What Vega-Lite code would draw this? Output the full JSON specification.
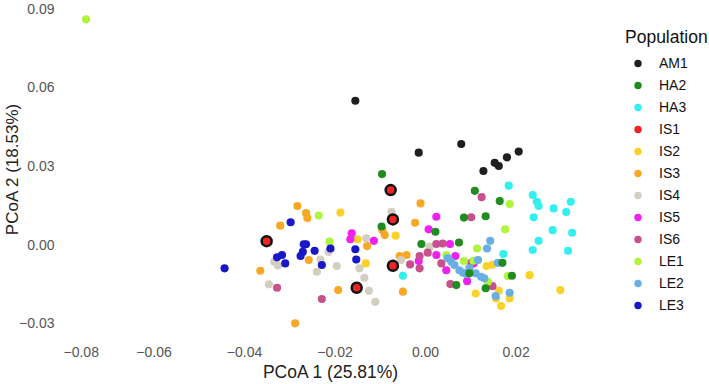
{
  "$schema": "https://vega.github.io/schema/vega-lite/v6.json",
  "width": 534,
  "height": 338,
  "autosize": {"type": "none"},
  "padding": {"left": 63, "top": 0, "right": 112, "bottom": 46},
  "config": {
    "view": {"stroke": null},
    "font": "Liberation Sans",
    "axis": {"domain": false, "ticks": false, "grid": false, "labelFontSize": 14, "labelColor": "#555555", "titleFontSize": 17.5, "titleFontWeight": "normal", "titleColor": "#222222", "labelFont": "Liberation Sans", "titleFont": "Liberation Sans"}
  },
  "datasets": {
    "pts": [
      {"p": "AM1", "x": -0.0154, "y": 0.0551},
      {"p": "AM1", "x": -0.0014, "y": 0.0353},
      {"p": "AM1", "x": 0.0080, "y": 0.0386},
      {"p": "AM1", "x": 0.0129, "y": 0.0283},
      {"p": "AM1", "x": 0.0154, "y": 0.0314},
      {"p": "AM1", "x": 0.0163, "y": 0.0302},
      {"p": "AM1", "x": 0.0181, "y": 0.0335},
      {"p": "AM1", "x": 0.0207, "y": 0.0357},
      {"p": "HA3", "x": 0.0185, "y": 0.0227},
      {"p": "HA3", "x": 0.0238, "y": 0.0191},
      {"p": "HA3", "x": 0.0247, "y": 0.0165},
      {"p": "HA3", "x": 0.0251, "y": 0.0149},
      {"p": "HA3", "x": 0.0284, "y": 0.0140},
      {"p": "HA3", "x": 0.0312, "y": 0.0126},
      {"p": "HA3", "x": 0.0322, "y": 0.0165},
      {"p": "HA3", "x": 0.0240, "y": 0.0106},
      {"p": "HA3", "x": 0.0282, "y": 0.0057},
      {"p": "HA3", "x": 0.0325, "y": 0.0047},
      {"p": "HA3", "x": 0.0251, "y": 0.0016},
      {"p": "HA3", "x": 0.0238, "y": -0.0019},
      {"p": "HA3", "x": 0.0316, "y": -0.0022},
      {"p": "HA3", "x": 0.0173, "y": -0.0034},
      {"p": "HA3", "x": -0.0049, "y": -0.0117},
      {"p": "IS2", "x": -0.0187, "y": 0.0124},
      {"p": "IS2", "x": -0.0065, "y": 0.0036},
      {"p": "IS2", "x": -0.0149, "y": 0.0022},
      {"p": "IS2", "x": -0.0131, "y": -0.0070},
      {"p": "IS2", "x": 0.0136, "y": -0.0080},
      {"p": "IS2", "x": 0.0149, "y": -0.0075},
      {"p": "IS2", "x": 0.0112, "y": -0.0185},
      {"p": "IS2", "x": 0.0163, "y": -0.0175},
      {"p": "IS2", "x": 0.0157, "y": -0.0204},
      {"p": "IS2", "x": 0.0187, "y": -0.0204},
      {"p": "IS2", "x": 0.0168, "y": -0.0233},
      {"p": "IS2", "x": 0.0231, "y": -0.0115},
      {"p": "IS2", "x": 0.0299, "y": -0.0172},
      {"p": "IS3", "x": -0.0282, "y": 0.0149},
      {"p": "IS3", "x": -0.0263, "y": 0.0122},
      {"p": "IS3", "x": -0.0260, "y": 0.0103},
      {"p": "IS3", "x": -0.0320, "y": 0.0074},
      {"p": "IS3", "x": -0.0010, "y": 0.0159},
      {"p": "IS3", "x": -0.0022, "y": 0.0085},
      {"p": "IS3", "x": -0.0094, "y": 0.0057},
      {"p": "IS3", "x": -0.0089, "y": 0.0038},
      {"p": "IS3", "x": -0.0128, "y": -0.0004},
      {"p": "IS3", "x": -0.0257, "y": -0.0057},
      {"p": "IS3", "x": -0.0364, "y": -0.0098},
      {"p": "IS3", "x": -0.0192, "y": -0.0172},
      {"p": "IS3", "x": -0.0049, "y": -0.0178},
      {"p": "IS3", "x": -0.0287, "y": -0.0299},
      {"p": "IS3", "x": -0.0056, "y": -0.0042},
      {"p": "IS3", "x": -0.0041, "y": -0.0038},
      {"p": "IS4", "x": -0.0074, "y": 0.0127},
      {"p": "IS4", "x": -0.0130, "y": 0.0026},
      {"p": "IS4", "x": -0.0213, "y": -0.0026},
      {"p": "IS4", "x": -0.0333, "y": -0.0064},
      {"p": "IS4", "x": -0.0325, "y": -0.0078},
      {"p": "IS4", "x": -0.0231, "y": -0.0055},
      {"p": "IS4", "x": -0.0239, "y": -0.0102},
      {"p": "IS4", "x": -0.0195, "y": -0.0080},
      {"p": "IS4", "x": -0.0145, "y": -0.0089},
      {"p": "IS4", "x": -0.0134, "y": -0.0125},
      {"p": "IS4", "x": -0.0124, "y": -0.0175},
      {"p": "IS4", "x": -0.0110, "y": -0.0217},
      {"p": "IS4", "x": -0.0345, "y": -0.0150},
      {"p": "IS4", "x": -0.0053, "y": -0.0057},
      {"p": "IS4", "x": 0.0010, "y": -0.0006},
      {"p": "IS5", "x": -0.0162, "y": 0.0045},
      {"p": "IS5", "x": -0.0165, "y": 0.0022},
      {"p": "IS5", "x": -0.0113, "y": 0.0016},
      {"p": "IS5", "x": 0.0025, "y": 0.0108},
      {"p": "IS5", "x": 0.0008, "y": 0.0060},
      {"p": "IS5", "x": -0.0014, "y": -0.0061},
      {"p": "IS5", "x": 0.0025, "y": -0.0038},
      {"p": "IS5", "x": 0.0047, "y": -0.0096},
      {"p": "IS5", "x": 0.0067, "y": -0.0042},
      {"p": "IS5", "x": 0.0093, "y": -0.0138},
      {"p": "IS5", "x": 0.0107, "y": -0.0070},
      {"p": "IS5", "x": 0.0055, "y": 0.0004},
      {"p": "IS6", "x": -0.0327, "y": -0.0163},
      {"p": "IS6", "x": -0.0228, "y": -0.0206},
      {"p": "IS6", "x": -0.0033, "y": -0.0074},
      {"p": "IS6", "x": -0.0012, "y": -0.0089},
      {"p": "IS6", "x": -0.0012, "y": -0.0042},
      {"p": "IS6", "x": 0.0006, "y": -0.0029},
      {"p": "IS6", "x": 0.0025, "y": 0.0004},
      {"p": "IS6", "x": 0.0039, "y": 0.0006},
      {"p": "IS6", "x": 0.0036, "y": -0.0070},
      {"p": "IS6", "x": 0.0102, "y": -0.0068},
      {"p": "IS6", "x": 0.0056, "y": -0.0149},
      {"p": "IS6", "x": 0.0149, "y": -0.0157},
      {"p": "IS6", "x": 0.0125, "y": 0.0183},
      {"p": "IS6", "x": 0.0102, "y": 0.0106},
      {"p": "LE1", "x": -0.0749, "y": 0.0862},
      {"p": "LE1", "x": -0.0235, "y": 0.0113},
      {"p": "LE1", "x": -0.0211, "y": 0.0013},
      {"p": "LE1", "x": 0.0187, "y": 0.0157},
      {"p": "LE1", "x": 0.0177, "y": 0.0060},
      {"p": "LE1", "x": 0.0115, "y": -0.0013},
      {"p": "LE1", "x": 0.0047, "y": -0.0038},
      {"p": "LE1", "x": 0.0086, "y": -0.0061},
      {"p": "LE1", "x": 0.0107, "y": -0.0060},
      {"p": "LE1", "x": 0.0183, "y": -0.0118},
      {"p": "LE1", "x": 0.0139, "y": -0.0140},
      {"p": "LE2", "x": 0.0144, "y": 0.0016},
      {"p": "LE2", "x": 0.0137, "y": -0.0013},
      {"p": "LE2", "x": 0.0117, "y": -0.0057},
      {"p": "LE2", "x": 0.0050, "y": -0.0050},
      {"p": "LE2", "x": 0.0058, "y": -0.0064},
      {"p": "LE2", "x": 0.0065, "y": -0.0076},
      {"p": "LE2", "x": 0.0076, "y": -0.0096},
      {"p": "LE2", "x": 0.0084, "y": -0.0106},
      {"p": "LE2", "x": 0.0091, "y": -0.0111},
      {"p": "LE2", "x": 0.0098, "y": -0.0088},
      {"p": "LE2", "x": 0.0112, "y": -0.0108},
      {"p": "LE2", "x": 0.0124, "y": -0.0121},
      {"p": "LE2", "x": 0.0131, "y": -0.0127},
      {"p": "LE2", "x": 0.0161, "y": -0.0068},
      {"p": "LE2", "x": 0.0156, "y": -0.0195},
      {"p": "LE2", "x": 0.0187, "y": -0.0182},
      {"p": "HA2", "x": -0.0095, "y": 0.0271},
      {"p": "HA2", "x": -0.0096, "y": 0.0071},
      {"p": "HA2", "x": 0.0086, "y": 0.0105},
      {"p": "HA2", "x": 0.0110, "y": 0.0207},
      {"p": "HA2", "x": 0.0165, "y": 0.0168},
      {"p": "HA2", "x": 0.0134, "y": 0.0110},
      {"p": "HA2", "x": 0.0023, "y": 0.0051},
      {"p": "HA2", "x": -0.0008, "y": 0.0004},
      {"p": "HA2", "x": 0.0075, "y": 0.0010},
      {"p": "HA2", "x": 0.0171, "y": -0.0068},
      {"p": "HA2", "x": 0.0098, "y": -0.0108},
      {"p": "HA2", "x": 0.0069, "y": -0.0153},
      {"p": "HA2", "x": 0.0134, "y": -0.0165},
      {"p": "HA2", "x": 0.0192, "y": -0.0117},
      {"p": "LE3", "x": -0.0297, "y": 0.0087},
      {"p": "LE3", "x": -0.0268, "y": 0.0003},
      {"p": "LE3", "x": -0.0263, "y": 0.0003},
      {"p": "LE3", "x": -0.0270, "y": -0.0026},
      {"p": "LE3", "x": -0.0244, "y": -0.0022},
      {"p": "LE3", "x": -0.0209, "y": -0.0013},
      {"p": "LE3", "x": -0.0316, "y": -0.0038},
      {"p": "LE3", "x": -0.0327, "y": -0.0047},
      {"p": "LE3", "x": -0.0309, "y": -0.0070},
      {"p": "LE3", "x": -0.0275, "y": -0.0042},
      {"p": "LE3", "x": -0.0228, "y": -0.0076},
      {"p": "LE3", "x": -0.0154, "y": -0.0016},
      {"p": "LE3", "x": -0.0152, "y": -0.0055},
      {"p": "LE3", "x": -0.0443, "y": -0.0089},
      {"p": "IS1", "x": -0.0076, "y": 0.0210},
      {"p": "IS1", "x": -0.0071, "y": 0.0098},
      {"p": "IS1", "x": -0.0350, "y": 0.0015},
      {"p": "IS1", "x": -0.0071, "y": -0.0079},
      {"p": "IS1", "x": -0.0151, "y": -0.0163}
    ]
  },
  "layer": [
    {
      "mark": {"type": "rule", "color": "#8f8f8f", "strokeWidth": 1.6},
      "encoding": {"x": {"datum": 0, "type": "quantitative", "scale": {"domain": [-0.08, 0.038], "nice": false, "zero": false}}}
    },
    {
      "mark": {"type": "rule", "color": "#8f8f8f", "strokeWidth": 1.6},
      "encoding": {"y": {"datum": 0, "type": "quantitative", "scale": {"domain": [-0.0355, 0.0936], "nice": false, "zero": false}}}
    },
    {
      "data": {"name": "pts"},
      "mark": {"type": "circle", "size": 66, "opacity": 1},
      "encoding": {
        "x": {"field": "x", "type": "quantitative", "scale": {"domain": [-0.08, 0.038], "nice": false, "zero": false},
              "axis": {"values": [-0.08, -0.06, -0.04, -0.02, 0, 0.02], "format": ".2f", "labelPadding": 7, "titlePadding": 4}, "title": "PCoA 1 (25.81%)"},
        "y": {"field": "y", "type": "quantitative", "scale": {"domain": [-0.0355, 0.0936], "nice": false, "zero": false},
              "axis": {"values": [-0.03, 0, 0.03, 0.06, 0.09], "format": ".2f", "labelPadding": 9, "titlePadding": -3, "titleFontSize": 17}, "title": "PCoA 2 (18.53%)"},
        "color": {"field": "p", "type": "nominal", "title": "Population",
          "scale": {"domain": ["AM1", "HA2", "HA3", "IS1", "IS2", "IS3", "IS4", "IS5", "IS6", "LE1", "LE2", "LE3"],
                    "range": ["#1f1f1f", "#1e8c1e", "#33f0f0", "#f02424", "#fad22a", "#f8a824", "#d3cfc0", "#f020f0", "#c8508c", "#b0f43c", "#6aaee6", "#1818c8"]},
          "legend": {"orient": "none", "legendX": 562, "legendY": 29, "titleFontSize": 17.5, "titleFontWeight": "normal", "titleColor": "#111111", "titlePadding": 10,
                     "labelFontSize": 14, "labelColor": "#111111", "symbolType": "circle", "symbolSize": 55, "symbolOffset": 6, "labelOffset": 14, "rowPadding": 8, "padding": 0}}
      }
    },
    {
      "data": {"name": "pts"},
      "transform": [{"filter": "datum.p === 'IS1'"}],
      "mark": {"type": "circle", "size": 100, "opacity": 1, "fill": "#f02424", "stroke": "#111111", "strokeWidth": 2.5},
      "encoding": {
        "x": {"field": "x", "type": "quantitative"},
        "y": {"field": "y", "type": "quantitative"}
      }
    }
  ]
}
